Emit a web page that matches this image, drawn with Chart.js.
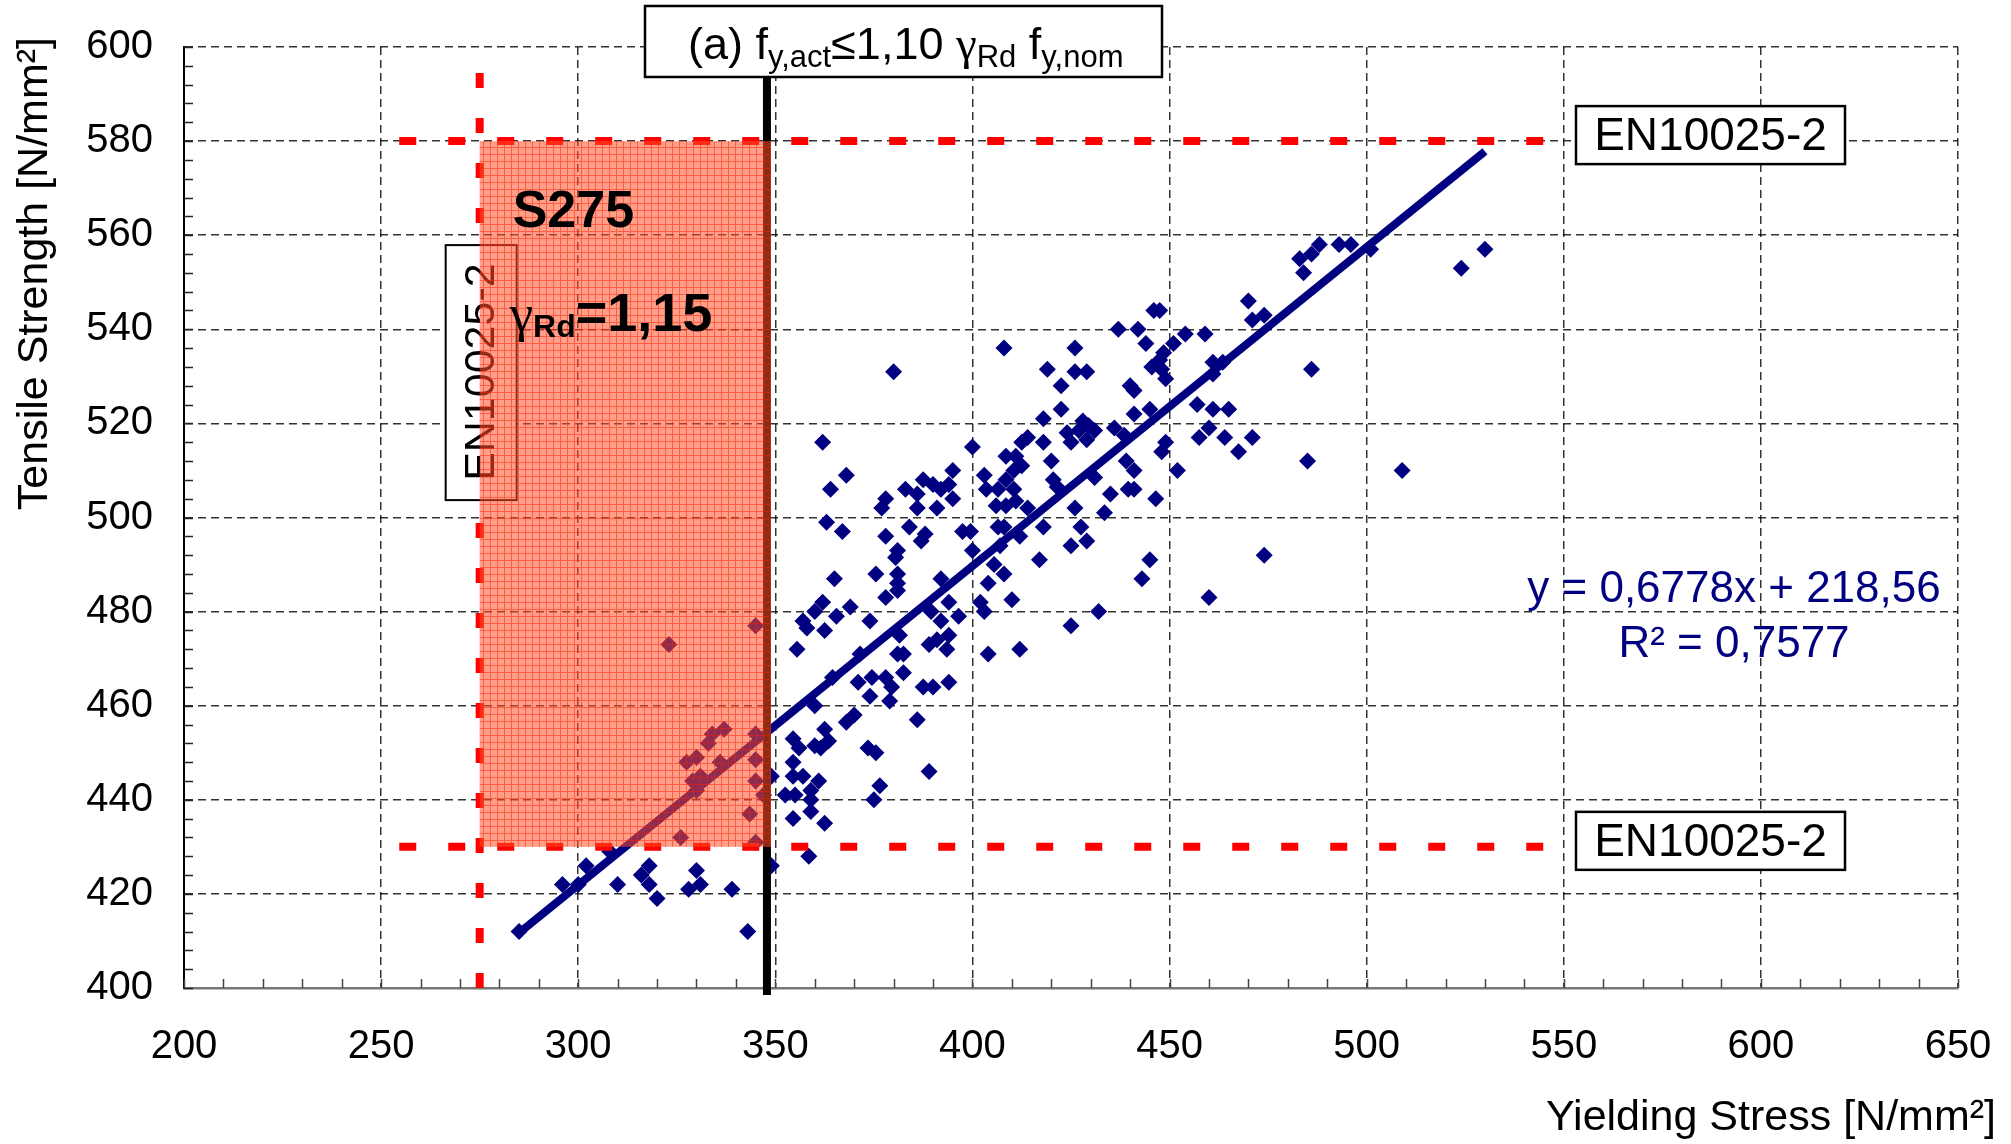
<!DOCTYPE html>
<html><head><meta charset="utf-8">
<script src="https://cdn.jsdelivr.net/npm/chart.js@4.4.1/dist/chart.umd.min.js"></script>
<style>html,body{margin:0;padding:0;background:#fff;}#wrap{width:2011px;height:1144px;}</style>
</head><body><div id="wrap"><canvas id="c" width="2011" height="1144"></canvas></div>
<script>
// ---- data ----
const yieldStress = [
285,296,300,302,308,310,316,318,318,320,326,330,331,328,339,343,323,345,337,334,333,330,327.5,336,345,345,329,331,330,345,347,343.5,345,349,349,
379,360,386,368,370,354.5,356,362.5,363.5,360,361.5,373.5,375.5,354.5,389,354.5,357,361,359,376.5,352.5,355,359,375,359,354.5,362.5,358.5,
362,368,364,400,395,383,386,387.5,390,392,394,378,377,386,391,395,363,367,384,378,388,387,397.5,399.5,381,380.5,400,365,375.5,381,381,381,392,378,362,360,357,358,362.5,365.5,369,374,355.5,394,389.5,392,396.5,402,403,405.5,404,381.5,389,391,394,393.5,381,382.5,371.5,404,382.5,371,374.5,378,379.5,387.5,390,394,374,364.5,403,403.5,406.5,406,406.5,407,
470,471,474,446,447.5,437,442,454,459,444,451,408,426,448.5,447.5,445.5,448,449,419,426,429,422.5,440,441,461,463.5,461,457,461,465,460,457.5,464,471,467.5,445,441,422.5,418,436,428,429.5,424,427,431,429,425,414,412.5,418,438.5,449,448,408.5,411,412.5,410.5,420,439,441,452,420.5,421.5,408.5,410.5,411,408.5,414,431,439.5,441,435,446.5,426,433.5,418,427.5,425,429,417,445,443,474,408,410,460,408,412,
412,425,432,380,
483,486,488,484,493,496,501,524,530,486,485,509
];
const tensileStrength = [
412,422,422,426,429,422,424,426,422,419,432,425,422,421,421,412,473,477,455,454,452,449,448,448,454,448.5,444,445,442,444,441,437,431,426,445,
461,460,457,456.5,458,453,451,455,452.5,451.5,451,451,450,448,446,445,445,444,442,443,441,441,440,440,437.5,436,435,428,
516,509,506,515,510,506,505,508,507,506,507,504,502,502,502,504,499,497,498,496,496.5,495,497,497,493,491.5,493,487,488,488,486,484.5,487,483,482,480,478,476.5,476,479,481,478,472,482,480,478,479,482,480,490,486,475,473,474,475,472,471,471,471,471,467,465,466,466,464,464,464,465,462,466,509,506,506,502.5,498,494,
546,542,543,544,544,540,540,539,539,537,537,536,536,535,533.5,532,531.5,529.5,531.5,531,531,528,528,527,533,533,530.5,524,523,523,519,517,517,517,514,523,522,523,521,519,520.5,519.5,518,518.5,518.5,516.5,516,517,516,516,517.5,516,514,513,513,511,510,512,512,510,510,508,506.5,508,506,503.5,502.5,502,508.5,506,506,505,504,502,501,498,498,494,495,491,491,487,492,488,482.5,483,498,496,
472,477,480,531,
555,556,558,552,558,558,557,553,557,531.5,512,510
];
const trendX = [285, 530];          // ends of the fitted line
const trendY = [411.7, 577.8];
const xTicks = [200, 250, 300, 350, 400, 450, 500, 550, 600, 650];
const yTicks = [400, 420, 440, 460, 480, 500, 520, 540, 560, 580, 600];
const nominalYield = 275;           // S275 f_y,nom
const actualYieldLimit = 347.875;   // 1,10 * 1,15 * 275
const tensileLimits = [430, 580];   // EN10025-2
const xTitle = 'Yielding Stress [N/mm²]';
const yTitle = 'Tensile Strength [N/mm²]';
const eqLine1 = 'y = 0,6778x + 218,56';
const eqLine2 = 'R² = 0,7577';
const boxLabel = 'EN10025-2';

const F = 'Liberation Sans, Arial, sans-serif';
const NAVY = '#000080';

function makePattern(ctx) {
  const c = document.createElement('canvas'); c.width = 7; c.height = 7;
  const g = c.getContext('2d');
  g.fillStyle = 'rgba(255,80,40,0.55)'; g.fillRect(0, 0, 7, 7);
  g.fillStyle = 'rgba(255,30,0,0.5)'; g.fillRect(0, 0, 7, 1); g.fillRect(0, 1, 1, 6);
  return ctx.createPattern(c, 'repeat');
}
function runs(ctx, x, base, parts) {
  ctx.textAlign = 'left'; ctx.textBaseline = 'alphabetic';
  for (const p of parts) {
    ctx.font = p.f; ctx.fillText(p.t, x, base + (p.dy || 0));
    x += ctx.measureText(p.t).width;
  }
}
function box(ctx, x1, y1, x2, y2, lw) {
  ctx.fillStyle = '#fff'; ctx.fillRect(x1, y1, x2 - x1, y2 - y1);
  ctx.strokeStyle = '#000'; ctx.lineWidth = lw; ctx.strokeRect(x1, y1, x2 - x1, y2 - y1);
}

const annot = {
  id: 'annot',
  beforeDatasetsDraw(chart) {
    const {ctx, chartArea: ca, scales: {x, y}} = chart;
    ctx.save();
    ctx.lineWidth = 1.5; ctx.strokeStyle = '#444';
    for (let v = xTicks[0]; v <= xTicks[xTicks.length - 1]; v += 10) {
      const px = Math.round(x.getPixelForValue(v)) + 0.5;
      ctx.beginPath(); ctx.moveTo(px, ca.bottom); ctx.lineTo(px, ca.bottom - 9); ctx.stroke();
    }
    ctx.strokeStyle = '#222';
    for (let v = yTicks[0]; v <= yTicks[yTicks.length - 1]; v += 4) {
      const py = Math.round(y.getPixelForValue(v)) + 0.5;
      ctx.beginPath(); ctx.moveTo(ca.left, py); ctx.lineTo(ca.left + 9, py); ctx.stroke();
    }
    ctx.restore();
  },
  afterDatasetsDraw(chart) {
    const {ctx, chartArea: ca, scales: {x, y}} = chart;
    const X = v => x.getPixelForValue(v), Y = v => y.getPixelForValue(v);
    const [tMin, tMax] = tensileLimits;
    ctx.save();
    // black limit line
    const bx = X(actualYieldLimit);
    ctx.strokeStyle = '#000'; ctx.lineWidth = 8;
    ctx.beginPath(); ctx.moveTo(bx, 77); ctx.lineTo(bx, ca.bottom + 7); ctx.stroke();
    // red dashed limits
    ctx.strokeStyle = '#ff0000'; ctx.lineWidth = 8; ctx.setLineDash([17, 32]);
    for (const v of [tMax, tMin]) {
      ctx.beginPath(); ctx.moveTo(X(254.6), Y(v)); ctx.lineTo(X(600), Y(v)); ctx.stroke();
    }
    ctx.setLineDash([15, 30]);
    ctx.beginPath(); ctx.moveTo(X(nominalYield), ca.bottom); ctx.lineTo(X(nominalYield), Y(595.5)); ctx.stroke();
    ctx.setLineDash([]);
    // rotated EN box
    const lx = X(nominalYield), ty = Y(tMax);
    box(ctx, lx - 34, ty + 104, lx + 37, ty + 359, 2);
    ctx.save();
    ctx.translate(lx + 2, ty + 231); ctx.rotate(-Math.PI / 2);
    ctx.fillStyle = '#000'; ctx.font = '43px ' + F; ctx.textAlign = 'center'; ctx.textBaseline = 'middle';
    ctx.fillText(boxLabel, 0, 0);
    ctx.restore();
    // shaded S275 zone
    ctx.fillStyle = makePattern(ctx);
    ctx.fillRect(lx, Y(tMax), bx + 4 - lx, Y(tMin) - Y(tMax));
    // S275 labels
    ctx.fillStyle = '#000';
    runs(ctx, lx + 33, ty + 86, [{t: 'S275', f: 'bold 52px ' + F}]);
    runs(ctx, lx + 30, ty + 190, [
      {t: 'γ', f: '53px Liberation Serif, serif'},
      {t: 'Rd', f: 'bold 32px ' + F, dy: 6},
      {t: '=1,15', f: 'bold 54px ' + F}
    ]);
    // right EN boxes
    for (const v of [tMax, tMin]) {
      const cy = Y(v) - 6;
      box(ctx, 1576, cy - 29, 1845, cy + 29, 2.5);
      ctx.fillStyle = '#000'; ctx.font = '46px ' + F; ctx.textAlign = 'center'; ctx.textBaseline = 'middle';
      ctx.fillText(boxLabel, 1710.5, cy + 2);
    }
    // regression equation
    ctx.fillStyle = NAVY; ctx.font = '44px ' + F; ctx.textAlign = 'center'; ctx.textBaseline = 'middle';
    ctx.fillText(eqLine1, 1734, 590);
    ctx.fillText(eqLine2, 1734, 645);
    // title box
    box(ctx, 645, 6, 1162, 77, 2.5);
    ctx.fillStyle = '#000';
    runs(ctx, 688, 59, [
      {t: '(a) f', f: '45px ' + F},
      {t: 'y,act', f: '31px ' + F, dy: 8},
      {t: '≤1,10 ', f: '45px ' + F},
      {t: 'γ', f: '47px Liberation Serif, serif', dy: 0},
      {t: 'Rd', f: '31px ' + F, dy: 8},
      {t: ' f', f: '45px ' + F},
      {t: 'y,nom', f: '31px ' + F, dy: 8}
    ]);
    // axis titles
    ctx.font = '43px ' + F; ctx.textAlign = 'right'; ctx.textBaseline = 'alphabetic';
    ctx.fillText(xTitle, 1996, 1130);
    ctx.save();
    ctx.translate(47, 37); ctx.rotate(-Math.PI / 2);
    ctx.textAlign = 'right'; ctx.fillText(yTitle, 0, 0);
    ctx.restore();
    ctx.restore();
  }
};

new Chart(document.getElementById('c'), {
  data: {
    datasets: [
      {type: 'line', data: trendX.map((v, i) => ({x: v, y: trendY[i]})), borderColor: NAVY, borderWidth: 8,
       pointRadius: 0, fill: false, tension: 0},
      {type: 'scatter', data: yieldStress.map((v, i) => ({x: v, y: tensileStrength[i]})),
       pointStyle: 'rectRot', pointRadius: 8.5, backgroundColor: NAVY, borderWidth: 0}
    ]
  },
  options: {
    responsive: false, animation: false, devicePixelRatio: 1,
    layout: {padding: {top: 47, right: 53, left: 0, bottom: 0}},
    plugins: {legend: {display: false}, tooltip: {enabled: false}},
    scales: {
      x: {type: 'linear', min: xTicks[0], max: xTicks[xTicks.length - 1],
          afterBuildTicks: s => { s.ticks = xTicks.map(v => ({value: v})); },
          afterFit: s => { s.height = 156; s.paddingLeft = 0; s.paddingRight = 0; },
          ticks: {font: {family: F, size: 40}, color: '#000', padding: 35, maxRotation: 0},
          grid: {color: 'rgba(0,0,0,0.8)', lineWidth: 1.5, drawTicks: false},
          border: {display: true, color: '#777', width: 2.5, dash: [8, 5]}},
      y: {type: 'linear', min: yTicks[0], max: yTicks[yTicks.length - 1],
          afterBuildTicks: s => { s.ticks = yTicks.map(v => ({value: v})); },
          afterFit: s => { s.width = 184; s.paddingTop = 0; s.paddingBottom = 0; },
          ticks: {font: {family: F, size: 40}, color: '#000', padding: 31},
          grid: {color: 'rgba(0,0,0,0.8)', lineWidth: 1.5, drawTicks: false},
          border: {display: true, color: '#000', width: 2, dash: [8, 5]},
          title: {display: false, text: yTitle}}
    }
  },
  plugins: [annot]
});
</script></body></html>
